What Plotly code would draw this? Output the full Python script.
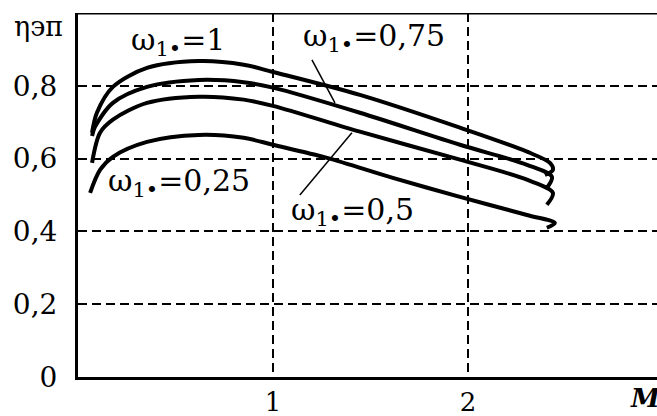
import plotly.graph_objects as go

# Data (x = M*, y = eta_ep)
x_w100 = [0.072, 0.097, 0.179, 0.354, 0.620, 0.850, 1.000, 1.446, 1.959, 2.303, 2.421, 2.436, 2.395]
y_w100 = [0.671, 0.726, 0.797, 0.849, 0.868, 0.858, 0.838, 0.775, 0.685, 0.619, 0.588, 0.569, 0.555]

x_w075 = [0.072, 0.087, 0.179, 0.354, 0.620, 0.850, 1.000, 1.446, 1.959, 2.303, 2.431, 2.405]
y_w075 = [0.662, 0.687, 0.753, 0.797, 0.816, 0.810, 0.795, 0.726, 0.638, 0.583, 0.550, 0.520]

x_w050 = [0.072, 0.113, 0.179, 0.354, 0.620, 0.850, 1.000, 1.446, 1.959, 2.303, 2.436, 2.405]
y_w050 = [0.588, 0.671, 0.707, 0.753, 0.770, 0.762, 0.745, 0.674, 0.597, 0.542, 0.506, 0.473]

x_w025 = [0.062, 0.113, 0.179, 0.354, 0.620, 0.850, 1.000, 1.277, 1.615, 1.959, 2.303, 2.446, 2.405]
y_w025 = [0.506, 0.569, 0.605, 0.646, 0.665, 0.657, 0.638, 0.602, 0.547, 0.495, 0.445, 0.423, 0.410]

series_labels = ["ω<sub>1•</sub>=1", "ω<sub>1•</sub>=0,75", "ω<sub>1•</sub>=0,5", "ω<sub>1•</sub>=0,25"]
label_x = [0.513, 1.518, 1.41, 0.518]
label_y = [0.921, 0.932, 0.454, 0.533]

y_tickvals = [0, 0.2, 0.4, 0.6, 0.8]
y_ticktext = ["0", "0,2", "0,4", "0,6", "0,8"]
x_tickvals = [1, 2]
x_ticktext = ["1", "2"]

FONT = "DejaVu Serif"

fig = go.Figure()
for xs, ys in [(x_w100, y_w100), (x_w075, y_w075), (x_w050, y_w050), (x_w025, y_w025)]:
    fig.add_trace(go.Scatter(x=xs, y=ys, mode="lines",
                             line=dict(color="black", width=4, shape="spline", smoothing=0.9),
                             showlegend=False, hoverinfo="skip"))

for t, lx, ly in zip(series_labels, label_x, label_y):
    fig.add_annotation(x=lx, y=ly, text=t, showarrow=False,
                       font=dict(family=FONT, size=30, color="black"))

# leader lines
fig.add_shape(type="line", x0=1.20, y0=0.871, x1=1.318, y1=0.753,
              line=dict(color="black", width=1.5))
fig.add_shape(type="line", x0=1.138, y0=0.50, x1=1.405, y1=0.671,
              line=dict(color="black", width=1.5))
# top frame line
fig.add_shape(type="line", xref="paper", x0=0, x1=1, y0=1.0, y1=1.0,
              line=dict(color="black", width=3))

# axis titles
fig.add_annotation(xref="paper", x=(12 - 78) / 579, y=0.962, xanchor="left",
                   text="ηэп", showarrow=False,
                   font=dict(family=FONT, size=27, color="black"))
fig.add_annotation(xref="paper", yref="paper", x=(628 - 78) / 579, y=-0.063,
                   xanchor="left", yanchor="middle",
                   text="<b><i>M</i></b><sub>*</sub>", showarrow=False,
                   font=dict(family=FONT, size=26, color="black"))

fig.update_layout(
    width=657, height=416,
    margin=dict(l=78, r=0, t=13, b=39),
    paper_bgcolor="white", plot_bgcolor="white",
    xaxis=dict(range=[0, 2.97], tickvals=x_tickvals, ticktext=x_ticktext,
               showgrid=True, gridcolor="black", gridwidth=2, griddash="9px,5px",
               zeroline=False, showline=True, linecolor="black", linewidth=3,
               ticks="", tickfont=dict(family=FONT, size=26, color="black"),
               ticklabelstandoff=0, automargin=False),
    yaxis=dict(range=[0, 1.0], tickvals=y_tickvals, ticktext=y_ticktext,
               showgrid=True, gridcolor="black", gridwidth=2, griddash="9px,5px",
               zeroline=False, showline=True, linecolor="black", linewidth=3,
               ticks="", tickfont=dict(family=FONT, size=28, color="black"),
               ticklabelstandoff=12, automargin=False),
)

fig.write_html("out.html", config={"displayModeBar": False},
               post_script="document.body.style.margin='0';document.body.style.overflow='hidden';")
